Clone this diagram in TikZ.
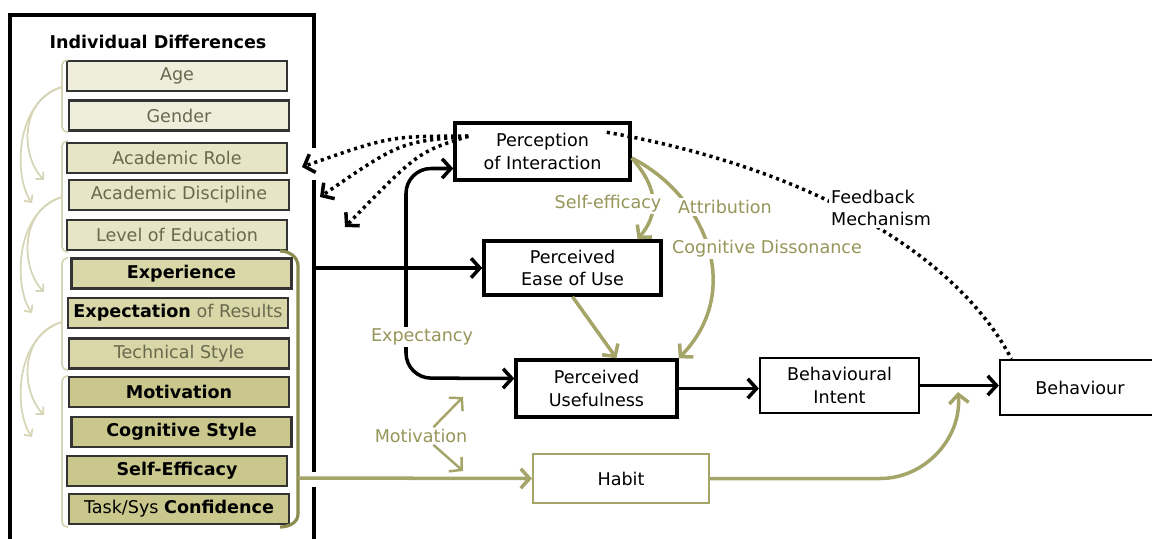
\documentclass[tikz,border=0pt]{standalone}
\usepackage{fontspec}
\setmainfont{DejaVu Sans}
\usetikzlibrary{arrows.meta,positioning}

\definecolor{idA}{RGB}{239,238,220}
\definecolor{idB}{RGB}{230,229,198}
\definecolor{idC}{RGB}{217,215,168}
\definecolor{idD}{RGB}{201,199,140}
\definecolor{idgray}{RGB}{105,105,78}
\definecolor{oliveline}{RGB}{165,165,105}
\definecolor{olivetext}{RGB}{150,150,90}
\definecolor{olivedark}{RGB}{140,140,80}
\definecolor{lightolive}{RGB}{214,213,182}

\tikzstyle{idbox} = [rectangle, draw=black!80, line width=1.4pt, minimum width=4.4cm, minimum height=0.6cm, inner sep=0pt]
\tikzstyle{stage} = [rectangle, draw, line width=2pt, align=center, inner sep=0pt, fill=white]
\tikzstyle{lbl} = [text=olivetext, fill=white, inner sep=1pt]
\tikzstyle{flow} = [line width=2pt, -{Straight Barb[length=5pt,width=11pt]}]
\tikzstyle{oflow} = [flow, draw=oliveline]
\tikzstyle{fbline} = [line width=2pt, dash pattern=on 1.8pt off 2.2pt]
\tikzstyle{lightarc} = [draw=lightolive, line width=1pt, -{Straight Barb[length=3pt,width=6pt]}]
\tikzstyle{grp} = [draw=lightolive, line width=1pt, rounded corners=3pt]
\tikzstyle{idframe} = [draw, line width=2pt]

\begin{document}
\begin{tikzpicture}[x=0.02cm, y=-0.02cm, font=\fontsize{10}{13}\selectfont]
    \clip (0,0) rectangle (1152,538);
    % Individual differences panel
    \draw[idframe] (314,148) -- (314,15) -- (10,15) -- (10,560);
    \draw[idframe] (314,180) -- (314,472);
    \draw[idframe] (314,487) -- (314,560);
    \node (title) at (158,42) {\textbf{Individual Differences}};
    \node (age) at (177,76) [idbox, fill=idA, text=idgray] {Age};
    \node (gender) at (179,115.5) [idbox, fill=idA, text=idgray] {Gender};
    \node (role) at (177,158) [idbox, fill=idB, text=idgray] {Academic Role};
    \node (disc) at (179,195) [idbox, fill=idB, text=idgray] {Academic Discipline};
    \node (edu) at (177,235) [idbox, fill=idB, text=idgray] {Level of Education};
    \node (exper) at (181.5,273.5) [idbox, fill=idC] {\textbf{Experience}};
    \node (expect) at (178,313) [idbox, fill=idC] {\textbf{Expectation} \textcolor{idgray}{of Results}};
    \node (tech) at (179,353.5) [idbox, fill=idC, text=idgray] {Technical Style};
    \node (motiv) at (179,392) [idbox, fill=idD] {\textbf{Motivation}};
    \node (cogn) at (181.5,432) [idbox, fill=idD] {\textbf{Cognitive Style}};
    \node (selfeff) at (177,471) [idbox, fill=idD] {\textbf{Self-Efficacy}};
    \node (task) at (179,509) [idbox, fill=idD] {Task/Sys \textbf{Confidence}};

    % groups and the arcs between them
    \foreach \t/\b in {60/132, 141/252, 258/370, 376/527}
        \draw[grp] (68,\t) -| (62,\b) -- (68,\b);
    \foreach \y/\a/\b in {87/180/203, 197/292/313, 322/415/437} {
        \draw[lightarc] (62,\y) .. controls (20,\y+12) and (20,\a-25) .. (44,\a);
        \draw[lightarc] (62,\y) .. controls (14,\y+15) and (14,\b-25) .. (32,\b);
    }
    \draw[draw=olivedark, line width=1.8pt] (280,251) to[out=0,in=90] (298,266) -- (298,514) to[out=-90,in=0] (280,527);
    \coordinate (brk) at (298,478);
    \coordinate (idr) at (314,268);

    % model
    \node (pi) at (542.5,151.5) [stage, minimum width=3.5cm, minimum height=1.14cm] {Perception\\of Interaction};
    \node (pe) at (572.5,268) [stage, minimum width=3.54cm, minimum height=1.08cm] {Perceived\\Ease of Use};
    \node (pu) at (596.5,388.5) [stage, minimum width=3.22cm, minimum height=1.14cm] {Perceived\\Usefulness};
    \node (bi) at (839.5,385.5) [stage, line width=1.3pt, minimum width=3.18cm, minimum height=1.1cm] {Behavioural\\Intent};
    \node (bh) at (1080,387.5) [stage, line width=1.3pt, minimum width=3.2cm, minimum height=1.1cm] {Behaviour};
    \node (hb) at (621,478.5) [stage, draw=oliveline, line width=1.2pt, minimum width=3.52cm, minimum height=0.98cm] {Habit};
    \node (mo) at (421,436) [lbl] {Motivation};

    \coordinate (t1) at (302,167);
    \coordinate (t2) at (320,197);
    \coordinate (t3) at (345,227);
    \coordinate (m1) at (463,397);
    \coordinate (m2) at (463,471);
    \coordinate (hbend) at (958,392);

    % black flows
    \draw[flow] (idr) -- (pe.west);
    \draw[line width=2pt, {Straight Barb[length=5pt,width=11pt]}-{Straight Barb[length=5pt,width=11pt]}, rounded corners=0.5cm]
        ([yshift=-0.34cm]pi.west) -| (406,378) -- ([yshift=0.2cm]pu.west);
    \draw[flow] (pu.east) -- (pu.east -| bi.west);
    \draw[flow] (bi.east) -- (bi.east -| bh.west);

    % feedback
    \draw[fbline] ([xshift=-0.5cm,yshift=-0.22cm]pi.north east) .. controls (820,170) and (960,260) .. ([xshift=0.25cm]bh.north west);
    \draw[fbline, -{Straight Barb[length=5pt,width=11pt]}] ([xshift=0.3cm,yshift=-0.3cm]pi.north west) .. controls (390,136) .. (t1);
    \draw[fbline, -{Straight Barb[length=5pt,width=11pt]}] ([xshift=0.3cm,yshift=-0.3cm]pi.north west) .. controls (400,142) .. (t2);
    \draw[fbline, -{Straight Barb[length=5pt,width=11pt]}] ([xshift=0.3cm,yshift=-0.3cm]pi.north west) .. controls (418,152) .. (t3);

    % olive flows
    \draw[oflow] (pe.south) -- ([xshift=0.4cm]pu.north);
    \draw[oflow] ([yshift=-0.13cm]pi.east) .. controls (660,190) and (658,215) .. ([xshift=1.3cm]pe.north);
    \draw[oflow] ([yshift=-0.13cm]pi.east) .. controls (705,195) and (745,290) .. (pu.north east);
    \draw[oflow] (brk) -- (hb.west);
    \draw[oflow] (hb.east) -- (880,478.5) to[out=0,in=-85] (hbend);
    \draw[oflow, line width=1.4pt] ([xshift=0.25cm]mo.north) -- (m1);
    \draw[oflow, line width=1.4pt] ([xshift=0.25cm]mo.south) -- (m2);

    % labels
    \node (fb) at (881,208) [fill=white, inner sep=1pt, align=left] {Feedback\\Mechanism};
    \node (se) at (608,204) [lbl] {Self-efficacy};
    \node (at) at (725,207) [lbl] {Attribution};
    \node (cd) at (767,249) [lbl] {Cognitive Dissonance};
    \node (ex) at (422,337) [lbl] {Expectancy};
\end{tikzpicture}
\end{document}
